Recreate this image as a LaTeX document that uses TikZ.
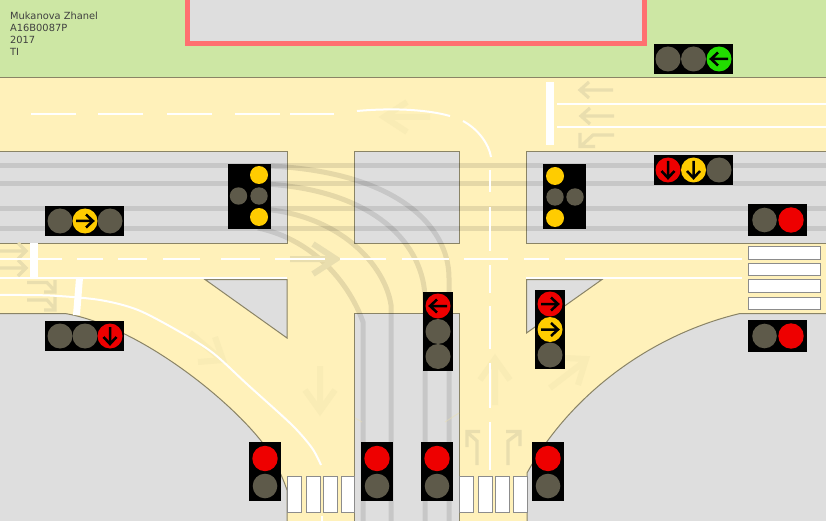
\documentclass[tikz,border=0pt]{standalone}
\usepackage{fontspec}
\setmainfont{DejaVu Sans}
\definecolor{road}{HTML}{FFF1BA}
\definecolor{grass}{HTML}{CDE7A4}
\definecolor{block}{HTML}{DEDEDE}
\definecolor{edge}{HTML}{8A8466}
\definecolor{pink}{HTML}{FF7070}
\definecolor{lampdim}{HTML}{5E5A4A}
\definecolor{lampred}{HTML}{EE0000}
\definecolor{lampyel}{HTML}{FFCC00}
\definecolor{lampgrn}{HTML}{22DD00}
\definecolor{markdark}{HTML}{E9DEAE}
\definecolor{markpale}{HTML}{F9ECB5}
\definecolor{zebra}{HTML}{8C8C8C}
\tikzset{
  x=1pt,y=-1pt,
  blockshape/.style={fill=block,draw=edge,line width=1pt},
  track/.style={draw=black,draw opacity=.1,line width=5pt},
  whiteline/.style={draw=white,line width=2pt},
  stopline/.style={fill=white},
  bigpale/.style={draw=markpale,line width=6pt},
  bigdark/.style={draw=markdark,line width=6pt},
  smallmark/.style={draw=markdark,line width=3.2pt},
  zebrabar/.style={fill=white,draw=zebra,line width=1pt},
  housing/.style={fill=black},
  glyph/.style={draw=black,line width=2.5pt},
  redl/.style={fill=lampred},
  yell/.style={fill=lampyel},
  grnl/.style={fill=lampgrn},
  diml/.style={fill=lampdim},
  caption/.style={anchor=west,inner sep=0pt,font=\fontsize{9.85}{11}\selectfont,text=black!75},
}
% lamp: x, y, style, radius
\newcommand\lamp[4]{\fill[#3] (#1,#2) circle (#4);}
\newcommand\arrE[2]{\draw[glyph] (#1-9,#2) -- (#1+8,#2) (#1+1,#2-6.5) -- (#1+8,#2) -- (#1+1,#2+6.5);}
\newcommand\arrW[2]{\draw[glyph] (#1+9,#2) -- (#1-8,#2) (#1-1,#2-6.5) -- (#1-8,#2) -- (#1-1,#2+6.5);}
\newcommand\arrS[2]{\draw[glyph] (#1,#2-9) -- (#1,#2+8) (#1-6.5,#2+1) -- (#1,#2+8) -- (#1+6.5,#2+1);}
\begin{document}
\begin{tikzpicture}
\useasboundingbox (0,0) rectangle (826,521);
% ground
\fill[road] (0,0) rectangle (826,521);
\fill[grass] (0,0) rectangle (826,77);
\draw[edge,line width=1pt] (0,77.5) -- (826,77.5);
\path[fill=block,draw=pink,line width=5pt] (187.5,-6) rectangle (644,44);
% blocks
\begin{scope}
\clip (0,0) rectangle (826,521);
\path[blockshape] (-3,151.5) rectangle (287.5,243);
\path[blockshape] (354.5,151.5) rectangle (459.5,243);
\path[blockshape] (526.5,151.5) rectangle (830,243);
\path[blockshape] (354.5,313.5) rectangle (459.5,530);
\path[blockshape] (205,279.5) -- (287,279.5) -- (287,338) -- cycle;
\path[blockshape] (526.5,279.5) -- (602,279.5) -- (526.5,333) -- cycle;
\path[blockshape] (-3,313.5) -- (65,313.5) .. controls (135,325) and (225,395) .. (262,442)
   .. controls (272,455) and (282,475) .. (287,490) -- (287,530) -- (-3,530) -- cycle;
\path[blockshape] (527,530) -- (527,473) .. controls (570,395) and (650,335) .. (740,313.5)
   -- (830,313.5) -- (830,530) -- cycle;
\end{scope}
% zebra crossings
\foreach \xa/\xb in {287.5/301,306/320,323/337,341.5/354,459.5/473,478/492,495/509,513/527}
  \path[zebrabar] (\xa,476.5) rectangle (\xb,512);
\foreach \ya/\yb in {246/259,263/275,279/292,297/309}
  \path[zebrabar] (748.5,\ya) rectangle (820,\yb);
% vehicle tracks
\foreach \y in {166,184,209,228}
  \draw[track] (0,\y) -- (826,\y);
\draw[track] (449,521) -- (449,278) .. controls (449,225) and (395,172) .. (270,166);
\draw[track] (425,521) -- (425,300) .. controls (425,245) and (375,190) .. (265,184);
\draw[track] (391,521) -- (391,305) .. controls (385,265) and (340,215) .. (262,209);
\draw[track] (363,521) -- (363,322) .. controls (350,285) and (315,240) .. (258,228);
% faint traces over centre block
\draw[draw=markdark,draw opacity=.5,line width=1pt] (355,418) -- (362,422);
\draw[draw=markdark,draw opacity=.5,line width=1pt] (445,422) -- (459,413);
% big pavement arrows
\draw[bigpale] (430,117) -- (385,117) (407,102) -- (384,117) -- (407,132);
\draw[bigdark] (290,259) -- (335,259) (313,244) -- (336,259) -- (313,274);
\draw[bigpale] (320,366) -- (320,410) (305,390) -- (320,411) -- (335,390);
\draw[bigpale] (495,405) -- (495,360) (480,380) -- (495,359) -- (510,380);
\draw[bigpale] (550,388) -- (585,361) (565,358) -- (586,359) -- (578,385);
\draw[bigpale] (190,333) -- (222,360) (215,337) -- (223,360) -- (198,362);
% small lane arrows
\draw[smallmark] (613,90) -- (581,90) (589,82) -- (580,90) -- (589,98);
\draw[smallmark] (614,116) -- (582,116) (590,108) -- (581,116) -- (590,124);
\draw[smallmark] (614,135) -- (593,135) -- (581,146) (580,133) -- (580,146.5) -- (595,146.5);
\draw[smallmark] (0,251) -- (25,251) (18,243) -- (26,251) -- (18,259);
\draw[smallmark] (0,268) -- (25,268) (18,260) -- (26,268) -- (18,276);
\draw[smallmark] (27,282.5) -- (47,282.5) -- (55,291) (55,280) -- (55,292) -- (44,292);
\draw[smallmark] (27,300) -- (47,300) -- (55,309) (55,297) -- (55,310) -- (44,310);
\draw[smallmark] (477,465) -- (477,441) -- (467,432) (467,447) -- (467,431.5) -- (480,431.5);
\draw[smallmark] (508,465) -- (508,441) -- (520,432) (506,431.5) -- (520,431.5) -- (520,446);
% stop lines
\fill[stopline] (30,243) rectangle (38,278);
\fill[stopline] (76,278) -- (83,278) -- (80,315) -- (73,315) -- cycle;
\fill[stopline] (546,82) rectangle (554,145);
% white lines
\foreach \a/\b in {31/76,98/143,167/212,235/280,290/334}
  \draw[whiteline] (\a,114) -- (\b,114);
\draw[whiteline] (357,111) .. controls (390,108) and (425,109) .. (450,116);
\draw[whiteline] (463,121) .. controls (478,129) and (489,144) .. (491,157);
\foreach \a/\b in {170/192,207/251,265/293,306/349,363/408,422/470}
  \draw[whiteline] (490,\a) -- (490,\b);
\foreach \a/\b in {0/62,77/103,118/147,163/200,221/260,275/325,340/386,402/449,464/508,524/549,565/742}
  \draw[whiteline] (\a,259) -- (\b,259);
\draw[whiteline] (0,278) -- (287,278);
\draw[whiteline] (526,278) -- (742,278);
\draw[whiteline] (557,104) -- (826,104);
\draw[whiteline] (557,127) -- (826,127);
\draw[whiteline] plot[smooth] coordinates {(0,295) (50,295.5) (100,300) (138,310) (180,332) (213,353) (248,385) (292,425) (312,448) (321,465)};
\draw[whiteline] (322,516) -- (322,521);
% text
\node[caption] (t1) at (10,16) {Mukanova Zhanel};
\node[caption] (t2) at (10,27.5) {A16B0087P};
\node[caption] (t3) at (10,39.5) {2017};
\node[caption] (t4) at (10,51.5) {TI};
% traffic light: top green
\fill[housing] (654,44) rectangle (733,74);
\lamp{668}{59}{diml}{12.5}\lamp{693.5}{59}{diml}{12.5}\lamp{719}{59}{grnl}{12.5}\arrW{719}{59}
% right head with arrows
\fill[housing] (654,155) rectangle (733,185);
\lamp{668}{170}{redl}{12.5}\lamp{693.5}{170}{yell}{12.5}\lamp{719}{170}{diml}{12.5}\arrS{668}{170}\arrS{693.5}{170}
% left head
\fill[housing] (45,206) rectangle (124,236);
\lamp{60}{221}{diml}{12.5}\lamp{85}{221}{yell}{12.5}\lamp{110}{221}{diml}{12.5}\arrE{85}{221}
% lower-left head
\fill[housing] (45,321) rectangle (124,351);
\lamp{60}{336}{diml}{12.5}\lamp{85}{336}{diml}{12.5}\lamp{110}{336}{redl}{12.5}\arrS{110}{336}
% cross heads
\fill[housing] (228,164) rectangle (271,229);
\lamp{259}{175}{yell}{9}\lamp{238.5}{196}{diml}{8.7}\lamp{259}{196}{diml}{8.7}\lamp{259}{217}{yell}{9}
\fill[housing] (543,164) rectangle (586,229);
\lamp{555}{176}{yell}{9}\lamp{555}{197}{diml}{8.7}\lamp{575}{197}{diml}{8.7}\lamp{555}{218}{yell}{9}
% pedestrian heads, right
\fill[housing] (748,204) rectangle (807,236);
\lamp{764.5}{220}{diml}{12.3}\lamp{791}{220}{redl}{12.7}
\fill[housing] (748,320) rectangle (807,352);
\lamp{764.5}{336}{diml}{12.3}\lamp{791}{336}{redl}{12.7}
% vertical heads
\fill[housing] (535,290) rectangle (565,369);
\lamp{550}{304}{redl}{12.5}\lamp{550}{329.5}{yell}{12.5}\lamp{550}{355}{diml}{12.5}\arrE{550}{304}\arrE{550}{329.5}
\fill[housing] (423,292) rectangle (453,371);
\lamp{438}{306}{redl}{12.5}\lamp{438}{331.5}{diml}{12.5}\lamp{438}{356.5}{diml}{12.5}\arrW{438}{306}
% pedestrian heads, bottom
\foreach \xa/\xb/\xc in {249/281/265,361/393/377,421/453/437,532/564/548}{
  \fill[housing] (\xa,442) rectangle (\xb,501);
  \lamp{\xc}{458.5}{redl}{12.7}\lamp{\xc}{486}{diml}{12.3}
}
\end{tikzpicture}
\end{document}
